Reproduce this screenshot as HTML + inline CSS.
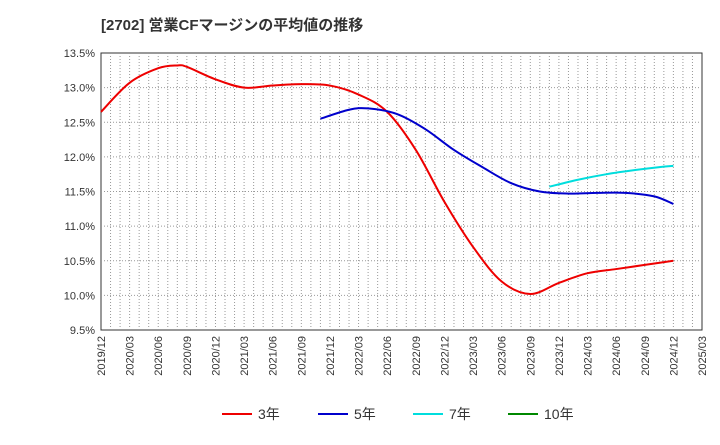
<!DOCTYPE html>
<html><head><meta charset="utf-8"><style>
body{margin:0;background:#fff;font-family:"Liberation Sans","Noto Sans CJK JP",sans-serif;}
</style></head><body>
<svg id="c" width="720" height="440" xmlns="http://www.w3.org/2000/svg">
<text x="101" y="30" font-size="15" font-weight="bold" fill="#333">[2702]  営業CFマージンの平均値の推移</text>
</svg>
<script>
const yTicks=[9.5,10.0,10.5,11.0,11.5,12.0,12.5,13.0,13.5];
const xLabels=["2019/12","2020/03","2020/06","2020/09","2020/12","2021/03","2021/06","2021/09","2021/12","2022/03","2022/06","2022/09","2022/12","2023/03","2023/06","2023/09","2023/12","2024/03","2024/06","2024/09","2024/12","2025/03"];
const s3Idx=[0,3,6,8,9,12,15,18,21,24,27,30,33,36,39,42,45,48,51,54,57,60];
const s3Val=[12.65,13.07,13.28,13.32,13.30,13.12,13.00,13.03,13.05,13.03,12.90,12.65,12.10,11.35,10.70,10.20,10.02,10.18,10.32,10.38,10.44,10.50];
const s5Idx=[23,26,28,31,34,37,40,43,46,49,52,55,58,60];
const s5Val=[12.55,12.68,12.70,12.62,12.40,12.10,11.85,11.62,11.50,11.47,11.48,11.48,11.43,11.32];
const s7Idx=[47,50,53,56,59,60];
const s7Val=[11.57,11.67,11.75,11.81,11.86,11.87];
const L=101,R=702,T=53,B=330,NM=63;
const X=i=>L+(R-L)*i/NM;
const Y=v=>B-(B-T)*(v-9.5)/4;
const svg=document.getElementById('c');
const NS="http://www.w3.org/2000/svg";
function mk(t,a){const e=document.createElementNS(NS,t);for(const k in a)e.setAttribute(k,a[k]);svg.appendChild(e);return e;}
let bg=mk('rect',{x:L,y:T,width:R-L,height:B-T,fill:'#fff',stroke:'#333'});


for(let m=1;m<NM;m++){let g=mk('line',{x1:X(m),x2:X(m),y1:T,y2:B,stroke:'#999','stroke-dasharray':'1,2'});

}
yTicks.forEach(v=>{if(v>9.5&&v<13.5){let g=mk('line',{x1:L,x2:R,y1:Y(v),y2:Y(v),stroke:'#999','stroke-dasharray':'1,2'});

}
let t=mk('text',{x:L-6,y:Y(v)+4,'text-anchor':'end','font-size':11,fill:'#333'});t.textContent=v.toFixed(1)+'%';

});
xLabels.forEach((s,i)=>{const x=X(i*3);let t=mk('text',{x:x+4,y:B+6,'text-anchor':'end','font-size':11,fill:'#333',transform:`rotate(-90 ${x+4} ${B+6})`});t.textContent=s;

});
function path(idx,val){const p=idx.map((i,k)=>[X(i),Y(val[k])]);let d=`M${p[0][0]},${p[0][1]}`;
for(let k=0;k<p.length-1;k++){const p0=p[k-1]||p[k],p1=p[k],p2=p[k+1],p3=p[k+2]||p2;
d+=` C${p1[0]+(p2[0]-p0[0])/6},${p1[1]+(p2[1]-p0[1])/6} ${p2[0]-(p3[0]-p1[0])/6},${p2[1]-(p3[1]-p1[1])/6} ${p2[0]},${p2[1]}`;}return d;}
[[s3Idx,s3Val,'#e00','series-3y'],[s5Idx,s5Val,'#00c','series-5y'],[s7Idx,s7Val,'#0dd','series-7y']].forEach(([i,v,c,n])=>{
let e=mk('path',{d:path(i,v),fill:'none',stroke:c,'stroke-width':2});

});
[['3年','#e00',222],['5年','#00c',318],['7年','#0dd',413],['10年','#080',508]].forEach(([s,c,x])=>{
let l=mk('line',{x1:x,x2:x+30,y1:414,y2:414,stroke:c,'stroke-width':2});


let t=mk('text',{x:x+36,y:419,'font-size':14,fill:'#333'});t.textContent=s;

});
</script>
</body></html>
